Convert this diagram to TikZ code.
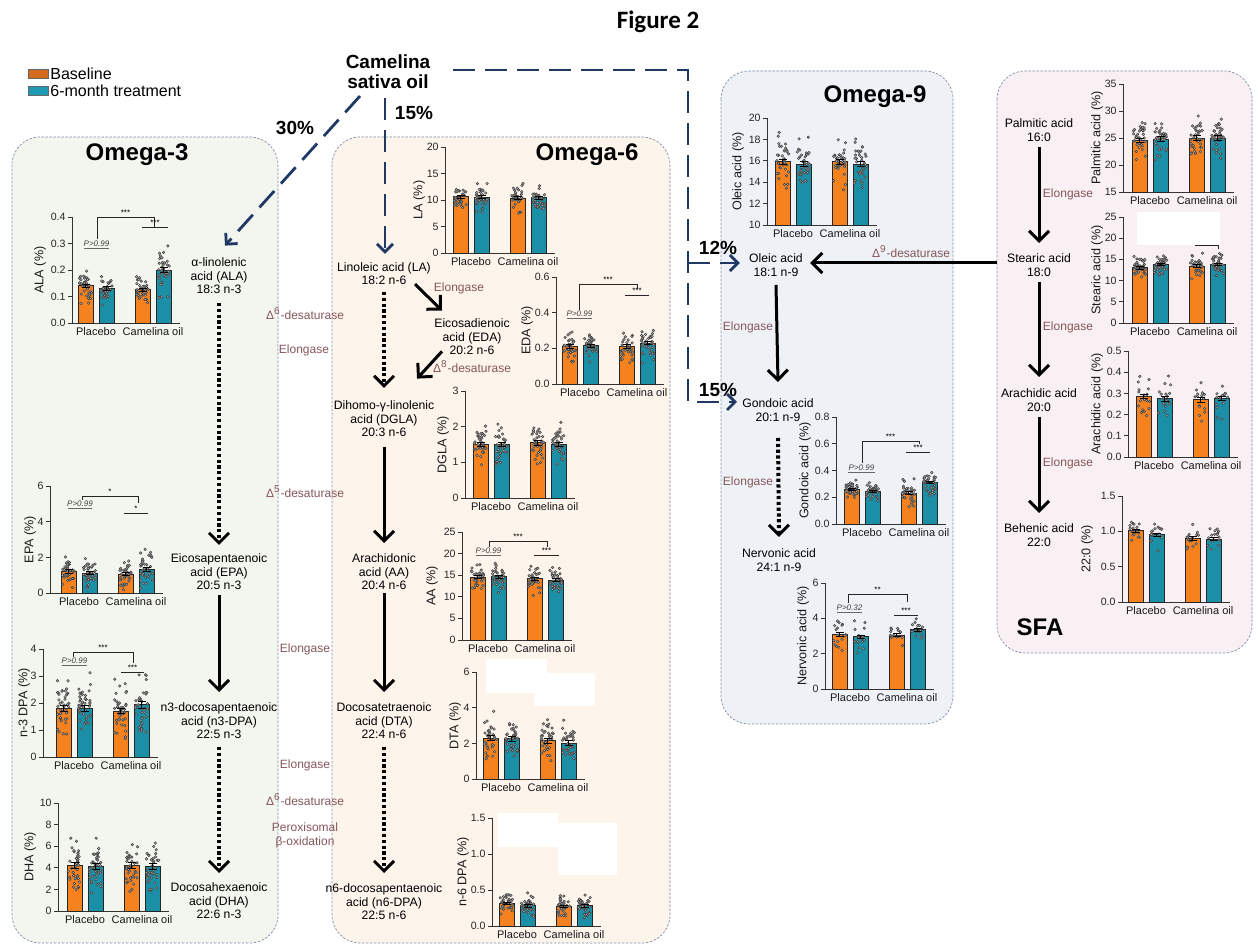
\documentclass[tikz,border=0pt]{standalone}
\usepackage{fontspec}
\setmainfont{Liberation Sans}
\newfontfamily\figfont{Carlito}
\usetikzlibrary{arrows.meta,calc}
\definecolor{barorange}{HTML}{F5821F}
\definecolor{barteal}{HTML}{1A8FA6}
\definecolor{navy}{HTML}{1F3864}
\definecolor{enz}{HTML}{86575A}
\definecolor{boxthree}{HTML}{F3F6EE}
\definecolor{boxsix}{HTML}{FDF4EC}
\definecolor{boxnine}{HTML}{EEF2F7}
\definecolor{boxsfa}{HTML}{F8F0F2}
\definecolor{boxline}{HTML}{8090A8}
\definecolor{legorange}{HTML}{D46A1E}
\definecolor{legteal}{HTML}{1F9AB2}

\tikzset{
  axst/.style={draw=black!80,line width=0.45pt},
  barst/.style={draw=black!85,line width=0.45pt},
  dotst/.style={draw=black!75,fill=black!30,line width=0.25pt},
  errst/.style={draw=black,line width=0.5pt},
  ticklab/.style={font=\fontsize{5.3}{6}\selectfont,text=black!85,inner sep=1pt},
  catlab/.style={font=\fontsize{5.5}{6}\selectfont,text=black!90,inner sep=0pt},
  ylab/.style={font=\fontsize{6.3}{7}\selectfont,text=black!90,inner sep=0pt},
  sigl/.style={draw=black!85,line width=0.4pt},
  sigtxt/.style={font=\fontsize{4}{4}\selectfont,inner sep=0pt},
  pvtxt/.style={font=\fontsize{4}{4}\selectfont\itshape,text=black!75,inner sep=0pt},
  acid/.style={font=\fontsize{6.1}{6.75}\selectfont,align=center,inner sep=0pt},
  enzst/.style={font=\fontsize{6}{7}\selectfont,text=enz,align=center,inner sep=0pt},
  boxst/.style={draw=boxline,line width=0.35pt,dash pattern=on 1.2pt off 0.8pt,rounded corners=14pt},
  titlest/.style={font=\fontsize{12}{14}\selectfont\bfseries,inner sep=0pt},
  pct/.style={font=\fontsize{9.5}{10}\selectfont\bfseries,inner sep=0pt,align=center},
  solidarr/.style={line width=1.5pt,-{Straight Barb[length=5pt,width=10pt]}},
  dotarr/.style={line width=2pt,dash pattern=on 1.6pt off 1.3pt,-{Straight Barb[length=5pt,width=10pt,line width=1.5pt]}},
  bluearr/.style={draw=navy,line width=1.4pt,dash pattern=on 11pt off 5pt,-{Straight Barb[length=4pt,width=8pt]}},
}

\newcommand\chartsetup[7]{\def\cX{#1}\def\cY{#2}\def\cH{#3}\def\cB{#4}\def\cMin{#5}\def\cMax{#6}\def\cLX{#7}}
\newcommand\chartdraw[3]{%
  \pgfmathsetmacro\cEnd{\cB+102}%
  \pgfmathsetmacro\cTop{\cY-\cH}%
  \draw[axst] (\cX,\cTop) -- (\cX,\cY) -- (\cEnd,\cY);
  \foreach \tv/\tl in {#1}{%
    \pgfmathsetmacro\ty{\cY-\cH*(\tv-\cMin)/(\cMax-\cMin)}%
    \draw[axst] (\cX,\ty) -- ++(-4,0) node[ticklab,anchor=east]{\tl};
  }%
  \foreach \bv/\bs/\bn [count=\bi] in {#2}{%
    \pgfmathsetmacro\bx{\cB+{0,21,57,78}[\bi-1]}%
    \pgfmathsetmacro\by{\cY-\cH*(\bv-\cMin)/(\cMax-\cMin)}%
    \pgfmathsetmacro\bc{\bx+7.5}%
    \ifodd\bi\relax\def\bcol{barorange}\else\def\bcol{barteal}\fi
    \draw[barst,fill=\bcol] (\bx,\cY) rectangle (\bx+15,\by);
    \foreach \k in {1,...,\bn}{%
      \pgfmathsetmacro\dv{max(\cMin+0.02*(\cMax-\cMin),min(\cMax,\bv+\bs*(rand+rand+rand)/1.6))}%
      \pgfmathsetmacro\dyy{\cY-\cH*(\dv-\cMin)/(\cMax-\cMin)}%
      \pgfmathsetmacro\dxx{\bc+6.2*rand}%
      \draw[dotst] (\dxx,\dyy) circle[radius=0.65pt];
    }%
    \pgfmathsetmacro\eu{\cH*0.15*\bs/(\cMax-\cMin)}%
    \draw[errst] (\bc-4,\by-\eu) -- (\bc+4,\by-\eu) (\bc,\by-\eu) -- (\bc,\by+\eu) (\bc-4,\by+\eu) -- (\bc+4,\by+\eu);
  }%
  \node[catlab] at (\cB+18,\cY+9) {Placebo};
  \node[catlab] at (\cB+75,\cY+9) {Camelina oil};
  \node[ylab,rotate=90] at (\cLX,\cY-\cH/2) {#3};
}
\newcommand\sigbr[6]{%
  \draw[sigl] (#1,#2) -- (#1,#3) -- (#4,#3) -- (#4,#5);
  \node[sigtxt,anchor=base] at ({(#1+#4)/2},#3-1) {#6};}
\newcommand\sighl[4]{%
  \draw[sigl] (#1,#3) -- (#2,#3);
  \node[sigtxt,anchor=base] at ({(#1+#2)/2},#3-1) {#4};}
\newcommand\pv[4]{%
  \draw[sigl,draw=black!60] (#1,#3) -- (#2,#3);
  \node[pvtxt,anchor=base] at ({(#1+#2)/2},#3-1.5) {#4};}

\begin{document}
\begin{tikzpicture}[x=0.5pt,y=-0.5pt]
\pgfmathsetseed{2718}
\fill[white] (0,0) rectangle (1258,945);
\path[use as bounding box] (0,0) rectangle (1258,945);

% boxes
\path[boxst,fill=boxthree] (12,137) rectangle (278,943);
\path[boxst,fill=boxsix] (332,137) rectangle (670,943);
\path[boxst,fill=boxnine] (721,71) rectangle (953,724);
\path[boxst,fill=boxsfa] (997,71) rectangle (1252,653);

% titles
\node[font=\figfont\fontsize{12.5}{14}\selectfont\bfseries,inner sep=0pt] (fig) at (658,22) {Figure 2};
\node[titlest] (t3) at (137,155) {Omega-3};
\node[titlest] (t6) at (587,155) {Omega-6};
\node[titlest] (t9) at (875,97) {Omega-9};
\node[titlest] (tsfa) at (1040,627) {SFA};

% legend
\fill[legorange,draw=black!60,line width=0.3pt] (28,69) rectangle (48,78);
\node[anchor=west,font=\fontsize{8}{9}\selectfont,inner sep=0pt] (lb) at (50,74) {Baseline};
\fill[legteal,draw=black!60,line width=0.3pt] (28,86) rectangle (48,95);
\node[anchor=west,font=\fontsize{8}{9}\selectfont,inner sep=0pt] (lt) at (50,91) {6-month treatment};

% source
\node[pct] (cso) at (388,72) {Camelina\\sativa oil};
\node[pct] (p30) at (295,128) {30\%};
\node[pct] (p15) at (414,113) {15\%};
\node[pct] (p12) at (718,248) {12\%};
\node[pct] (p15b) at (718,390) {15\%};

% ---------- charts ----------
\chartsetup{72}{323}{106}{78}{0}{0.4}{40}
\chartdraw{0/0.0,0.1/0.1,0.2/0.2,0.3/0.3,0.4/0.4}{0.14/0.045/35,0.13/0.04/35,0.125/0.035/35,0.20/0.07/35}{ALA (\%)}
\sigbr{97}{239}{217}{154}{227}{***}
\sighl{142}{168}{227}{***}
\pv{84}{109}{248}{P>0.99}

\chartsetup{50}{593}{107}{61}{0}{6}{30}
\chartdraw{0/0,2/2,4/4,6/6}{1.2/0.7/35,1.1/0.6/35,1.05/0.6/35,1.3/0.8/35}{EPA (\%)}
\sigbr{82}{500}{496}{138}{503}{*}
\sighl{124}{148}{513}{*}
\pv{68}{92}{508}{P>0.99}

\chartsetup{43}{757}{108}{56}{0}{4}{24}
\chartdraw{0/0,1/1,2/2,3/3,4/4}{1.8/0.8/40,1.8/0.8/40,1.7/0.7/40,1.93/0.8/40}{n-3 DPA (\%)}
\sigbr{73}{657}{652}{133}{663}{***}
\sighl{121}{144}{672}{***}
\pv{62}{87}{665}{P>0.99}

\chartsetup{58}{911}{108}{67}{0}{10}{30}
\chartdraw{0/0,2/2,4/4,6/6,8/8,10/10}{4.2/1.8/40,4.1/1.8/40,4.2/1.8/40,4.1/1.8/40}{DHA (\%)}

\chartsetup{445}{253}{106}{453}{0}{20}{419}
\chartdraw{0/0,5/5,10/10,15/15,20/20}{10.6/2/35,10.5/2/35,10.3/2/35,10.4/2/35}{LA (\%)}

\chartsetup{556}{384}{107}{562}{0}{0.6}{527}
\chartdraw{0/0.0,0.2/0.2,0.4/0.4,0.6/0.6}{0.21/0.06/35,0.215/0.06/35,0.21/0.07/35,0.23/0.07/35}{EDA (\%)}
\sigbr{579}{310}{284}{637}{289}{***}
\sighl{625}{649}{295}{***}
\pv{567}{592}{318}{P>0.99}

\chartsetup{465}{498}{107}{473}{0}{3}{443}
\chartdraw{0/0,1/1,2/2,3/3}{1.5/0.4/35,1.5/0.4/35,1.55/0.45/35,1.5/0.4/35}{DGLA (\%)}

\chartsetup{462}{640}{108}{470}{0}{25}{432}
\chartdraw{0/0,5/5,10/10,15/15,20/20,25/25}{14.5/2.5/35,14.6/2.2/35,14.2/2.2/35,13.8/2.2/35}{AA (\%)}
\sigbr{489}{547}{541}{547}{547}{***}
\sighl{534}{559}{555}{***}
\pv{476}{501}{555}{P>0.99}

\chartsetup{476}{779}{107}{483}{0}{6}{455}
\chartdraw{0/0,2/2,4/4,6/6}{2.3/1.0/35,2.25/0.9/35,2.15/0.9/35,2.0/0.9/35}{DTA (\%)}

\chartsetup{492}{926}{108}{499}{0}{1.5}{463}
\chartdraw{0/0.0,0.5/0.5,1/1.0,1.5/1.5}{0.31/0.12/35,0.28/0.12/35,0.27/0.12/35,0.28/0.11/35}{n-6 DPA (\%)}

\chartsetup{767}{225}{107}{775}{10}{20}{738}
\chartdraw{10/10,12/12,14/14,16/16,18/18,20/20}{15.9/1.7/35,15.7/1.7/35,15.9/1.7/35,15.7/1.7/35}{Oleic acid (\%)}

\chartsetup{836}{524}{107}{844}{0}{0.8}{805}
\chartdraw{0/0.0,0.2/0.2,0.4/0.4,0.6/0.6,0.8/0.8}{0.26/0.06/35,0.24/0.05/35,0.23/0.07/35,0.31/0.07/35}{Gondoic acid (\%)}
\sigbr{862}{463}{441}{919}{444}{***}
\sighl{906}{930}{452}{***}
\pv{848}{875}{472}{P>0.99}

\chartsetup{825}{689}{106}{832}{0}{6}{803}
\chartdraw{0/0,2/2,4/4,6/6}{3.1/0.7/18,2.95/0.7/18,3.05/0.6/15,3.35/0.45/15}{Nervonic acid (\%)}
\sigbr{848}{603}{594}{907}{602}{**}
\sighl{894}{918}{615}{***}
\pv{837}{862}{612}{P>0.32}

\chartsetup{1123}{192}{108}{1132}{15}{35}{1097}
\chartdraw{15/15,20/20,25/25,30/30,35/35}{24.5/2.8/35,24.8/2.8/35,25/3/35,25/3/35}{Palmitic acid (\%)}

\chartsetup{1123}{323}{106}{1132}{0}{25}{1097}
\chartdraw{0/0,5/5,10/10,15/15,20/20,25/25}{13/2/35,13.8/2.2/35,13.4/2.2/35,13.8/2.2/35}{Stearic acid (\%)}

\chartsetup{1128}{457}{106}{1136}{0}{0.5}{1097}
\chartdraw{0/0.0,0.1/0.1,0.2/0.2,0.3/0.3,0.4/0.4,0.5/0.5}{0.285/0.07/18,0.275/0.08/18,0.27/0.08/15,0.275/0.07/15}{Arachidic acid (\%)}

\chartsetup{1122}{602}{106}{1128}{0}{1.5}{1087}
\chartdraw{0/0.0,0.5/0.5,1/1.0,1.5/1.5}{1.01/0.15/18,0.95/0.14/18,0.9/0.2/15,0.89/0.12/15}{22:0 (\%)}

% white patches
\fill[white] (486,659) rectangle (547,693);
\fill[white] (534,673) rectangle (595,706);
\fill[white] (498,813) rectangle (558,847);
\fill[white] (558,823) rectangle (617,875);
\fill[white] (1137,212) rectangle (1220,245);
\draw[sigl] (1195,245) -- (1218,245) -- (1218,249);

% ---------- acids ----------
\node[acid] (ala) at (219,276) {α-linolenic\\acid (ALA)\\18:3 n-3};
\node[acid] (epa) at (219,572) {Eicosapentaenoic\\acid (EPA)\\20:5 n-3};
\node[acid] (n3dpa) at (219,721) {n3-docosapentaenoic\\acid (n3-DPA)\\22:5 n-3};
\node[acid] (dha) at (219,901) {Docosahexaenoic\\acid (DHA)\\22:6 n-3};
\node[acid] (la) at (384,273.5) {Linoleic acid (LA)\\18:2 n-6};
\node[acid] (eda) at (472,337) {Eicosadienoic\\acid (EDA)\\20:2 n-6};
\node[acid] (dgla) at (384,419) {Dihomo-γ-linolenic\\acid (DGLA)\\20:3 n-6};
\node[acid] (aa) at (384,572) {Arachidonic\\acid (AA)\\20:4 n-6};
\node[acid] (dta) at (384,721) {Docosatetraenoic\\acid (DTA)\\22:4 n-6};
\node[acid] (n6dpa) at (384,902) {n6-docosapentaenoic\\acid (n6-DPA)\\22:5 n-6};
\node[acid] (oleic) at (776,265) {Oleic acid\\18:1 n-9};
\node[acid] (gondoic) at (778,410) {Gondoic acid\\20:1 n-9};
\node[acid] (nervonic) at (779,560) {Nervonic acid\\24:1 n-9};
\node[acid] (palmitic) at (1039,130) {Palmitic acid\\16:0};
\node[acid] (stearic) at (1039,265) {Stearic acid\\18:0};
\node[acid] (arachidic) at (1039,400) {Arachidic acid\\20:0};
\node[acid] (behenic) at (1039,535) {Behenic acid\\22:0};

% ---------- enzymes ----------
\node[enzst] (e1) at (305,314) {Δ\textsuperscript{6}-desaturase};
\node[enzst] (e2) at (304,350) {Elongase};
\node[enzst] (e3) at (305,492) {Δ\textsuperscript{5}-desaturase};
\node[enzst] (e4) at (305,649) {Elongase};
\node[enzst] (e5) at (305,765) {Elongase};
\node[enzst] (e6) at (305,800) {Δ\textsuperscript{6}-desaturase};
\node[enzst] (e7) at (305,835) {Peroxisomal\\β-oxidation};
\node[enzst] (e8) at (459,288) {Elongase};
\node[enzst] (e9) at (472,367) {Δ\textsuperscript{8}-desaturase};
\node[enzst] (e10) at (748,327) {Elongase};
\node[enzst] (e11) at (748,482) {Elongase};
\node[enzst] (e12) at (911,252) {Δ\textsuperscript{9}-desaturase};
\node[enzst] (e13) at (1068,194) {Elongase};
\node[enzst] (e14) at (1068,327) {Elongase};
\node[enzst] (e15) at (1068,463) {Elongase};

% ---------- pathway arrows ----------
\draw[dotarr] (ala.south |- 0,303) -- (epa.north |- 0,545);
\draw[solidarr] (epa.south |- 0,595) -- (n3dpa.north |- 0,692);
\draw[dotarr] (n3dpa.south |- 0,747) -- (dha.north |- 0,873);

\draw[dotarr] (la.south |- 0,292) -- (dgla.north |- 0,388);
\draw[solidarr] ($(la.south)+(31,-1)$) -- ($(eda.north)+(-30,-8)$);
\draw[solidarr] ($(eda.south)+(-30,-4)$) -- ($(dgla.north)+(33,-22)$);
\draw[solidarr] (dgla.south |- 0,447) -- (aa.north |- 0,543);
\draw[solidarr] (aa.south |- 0,593) -- (dta.north |- 0,692);
\draw[dotarr] (dta.south |- 0,747) -- (n6dpa.north |- 0,873);

\draw[solidarr] (oleic.south |- 0,285) -- (gondoic.north |- 0,382);
\draw[dotarr] (gondoic.south |- 0,438) -- (nervonic.north |- 0,537);
\draw[solidarr,shorten <=5pt,shorten >=3.5pt] (stearic.west |- 0,263) -- (oleic.east |- 0,263);

\draw[solidarr] (palmitic.south |- 0,147) -- (stearic.north |- 0,243);
\draw[solidarr] (stearic.south |- 0,282) -- (arachidic.north |- 0,377);
\draw[solidarr] (arachidic.south |- 0,417) -- (behenic.north |- 0,513);

% ---------- source arrows ----------
\coordinate (c30) at (360,96);
\coordinate (c15) at (385,98);
\coordinate (cR) at (453,70);
\coordinate (alatip) at ($(ala.north)+(6,-12)$);
\draw[bluearr] (c30) -- (alatip);
\draw[bluearr,shorten >=4pt] (c15) -- (c15 |- la.north);
\draw[bluearr,shorten >=2.5pt] (cR) -- (688,70) -- (688,402) -- (gondoic.west |- 0,402);
\draw[bluearr,shorten >=4.5pt] (688,263) -- (oleic.west |- 0,263);
\end{tikzpicture}
\end{document}
